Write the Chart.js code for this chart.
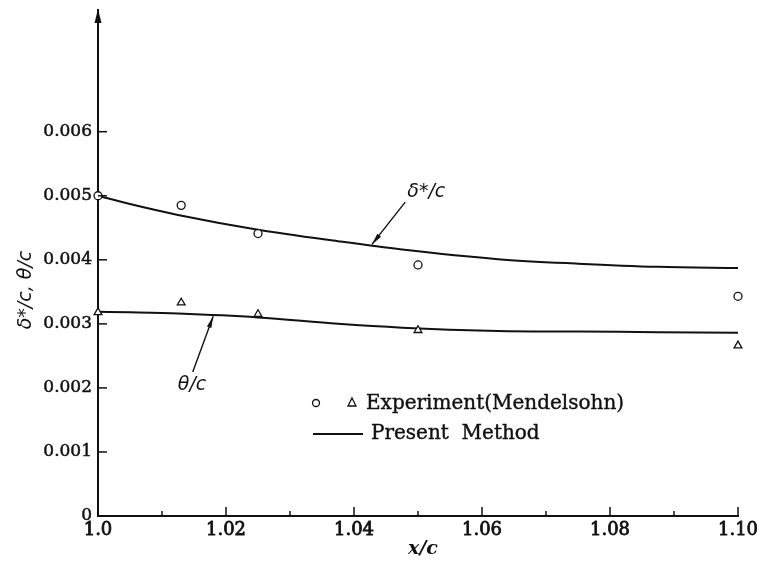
<!DOCTYPE html>
<html lang="en">
  <head>
    <meta charset="UTF-8" />
    <title>Boundary layer thickness</title>
    <style>
      body {
        margin: 0;
        background: #fff;
      }
      canvas {
        display: block;
      }
    </style>
  </head>
  <body>
    <canvas id="chart" width="757" height="570"></canvas>
    <script src="https://cdn.jsdelivr.net/npm/chart.js"></script>
    <script>
      // x/c positions of the measured points (Mendelsohn)
      const expX = [1.0, 1.013, 1.025, 1.05, 1.1];
      const expDelta = [0.005, 0.00485, 0.00441, 0.00392, 0.00343];
      const expTheta = [0.00318, 0.00333, 0.00315, 0.0029, 0.00266];

      // present method curves
      const curveX = [1.0, 1.005, 1.0125, 1.025, 1.0375, 1.0475, 1.0625, 1.075, 1.0875, 1.1];
      const curveDelta = [0.005, 0.00487, 0.0047, 0.00447, 0.00429, 0.00416, 0.00401, 0.00394, 0.00389, 0.00387];
      const curveTheta = [0.00319, 0.00318, 0.00316, 0.0031, 0.003, 0.00294, 0.00289, 0.00288, 0.00287, 0.00286];

      // axis ticks
      const xTicks = [1.0, 1.01, 1.02, 1.03, 1.04, 1.05, 1.06, 1.07, 1.08, 1.09, 1.1];
      const xTickLabels = ["1.0", "", "1.02", "", "1.04", "", "1.06", "", "1.08", "", "1.10"];
      const yTicks = [0, 0.001, 0.002, 0.003, 0.004, 0.005, 0.006];
      const yTickLabels = ["0", "0.001", "0.002", "0.003", "0.004", "0.005", "0.006"];

      const ink = "#111";
      const serif = '"DejaVu Serif", serif';
      const oblique = '"DejaVu Sans", sans-serif';

      const toPoints = (xs, ys) => xs.map((x, i) => ({ x: x, y: ys[i] }));

      function arrow(ctx, x0, y0, x1, y1) {
        const a = Math.atan2(y1 - y0, x1 - x0);
        ctx.beginPath();
        ctx.moveTo(x0, y0);
        ctx.lineTo(x1, y1);
        ctx.stroke();
        ctx.beginPath();
        ctx.moveTo(x1, y1);
        ctx.lineTo(x1 - 12 * Math.cos(a - 0.2), y1 - 12 * Math.sin(a - 0.2));
        ctx.lineTo(x1 - 12 * Math.cos(a + 0.2), y1 - 12 * Math.sin(a + 0.2));
        ctx.closePath();
        ctx.fill();
      }

      const decorations = {
        id: "decorations",
        afterDraw(chart) {
          const ctx = chart.ctx;
          const xs = chart.scales.x;
          const ys = chart.scales.y;
          const area = chart.chartArea;
          ctx.save();
          ctx.strokeStyle = ink;
          ctx.fillStyle = ink;
          ctx.lineWidth = 1.5;

          // inward tick marks
          xs.ticks.forEach((t, i) => {
            const px = xs.getPixelForValue(t.value);
            const len = xTickLabels[i] ? 9 : 5;
            ctx.beginPath();
            ctx.moveTo(px, area.bottom);
            ctx.lineTo(px, area.bottom - len);
            ctx.stroke();
          });
          ys.ticks.forEach((t) => {
            const py = ys.getPixelForValue(t.value);
            ctx.beginPath();
            ctx.moveTo(area.left, py);
            ctx.lineTo(area.left + 9, py);
            ctx.stroke();
          });

          // arrow head on top of the y axis
          ctx.beginPath();
          ctx.moveTo(area.left, area.top - 1);
          ctx.lineTo(area.left - 3.5, area.top + 13);
          ctx.lineTo(area.left + 3.5, area.top + 13);
          ctx.closePath();
          ctx.fill();

          // curve labels with pointers
          ctx.lineWidth = 1.4;
          arrow(ctx, xs.getPixelForValue(1.048), ys.getPixelForValue(0.0049),
            xs.getPixelForValue(1.0428), ys.getPixelForValue(0.00424));
          arrow(ctx, xs.getPixelForValue(1.0148), ys.getPixelForValue(0.00225),
            xs.getPixelForValue(1.018), ys.getPixelForValue(0.00312));

          ctx.font = "italic 19px " + oblique;
          ctx.textAlign = "center";
          ctx.textBaseline = "middle";
          ctx.fillText("δ*/c", xs.getPixelForValue(1.0513), ys.getPixelForValue(0.00505));
          ctx.fillText("θ/c", xs.getPixelForValue(1.0147), ys.getPixelForValue(0.00205));

          // axis titles
          ctx.font = "italic bold 19px " + serif;
          ctx.fillText("x/c", 423, 549);
          ctx.save();
          ctx.translate(26, 290);
          ctx.rotate(-Math.PI / 2);
          ctx.font = "italic 19px " + oblique;
          ctx.fillText("δ*/c, θ/c", 0, 0);
          ctx.restore();

          // legend
          ctx.font = "20px " + serif;
          ctx.textAlign = "left";
          ctx.lineWidth = 1.3;
          ctx.fillStyle = "#fff";
          ctx.beginPath();
          ctx.arc(316, 403, 3.5, 0, Math.PI * 2);
          ctx.fill();
          ctx.stroke();
          ctx.beginPath();
          ctx.moveTo(352, 398);
          ctx.lineTo(356, 406);
          ctx.lineTo(348, 406);
          ctx.closePath();
          ctx.fill();
          ctx.stroke();
          ctx.fillStyle = ink;
          ctx.lineWidth = 0.4;
          ctx.fillText("Experiment(Mendelsohn)", 366, 404);
          ctx.strokeText("Experiment(Mendelsohn)", 366, 404);
          ctx.lineWidth = 2;
          ctx.beginPath();
          ctx.moveTo(313, 434);
          ctx.lineTo(363, 434);
          ctx.stroke();
          ctx.lineWidth = 0.4;
          ctx.fillText("Present  Method", 371, 434);
          ctx.strokeText("Present  Method", 371, 434);
          ctx.restore();
        },
      };

      new Chart(document.getElementById("chart"), {
        type: "scatter",
        data: {
          datasets: [
            {
              label: "Experiment δ*/c",
              data: toPoints(expX, expDelta),
              pointStyle: "circle",
              pointRadius: 4,
              pointBorderWidth: 1.3,
              pointBorderColor: ink,
              pointBackgroundColor: "#fff",
              clip: false,
            },
            {
              label: "Experiment θ/c",
              data: toPoints(expX, expTheta),
              pointStyle: "triangle",
              pointRadius: 4.5,
              pointBorderWidth: 1.3,
              pointBorderColor: ink,
              pointBackgroundColor: "#fff",
              clip: false,
            },
            {
              label: "Present Method δ*/c",
              data: toPoints(curveX, curveDelta),
              showLine: true,
              borderColor: ink,
              borderWidth: 2,
              pointRadius: 0,
              cubicInterpolationMode: "monotone",
              clip: false,
            },
            {
              label: "Present Method θ/c",
              data: toPoints(curveX, curveTheta),
              showLine: true,
              borderColor: ink,
              borderWidth: 2,
              pointRadius: 0,
              cubicInterpolationMode: "monotone",
              clip: false,
            },
          ],
        },
        options: {
          responsive: false,
          animation: false,
          devicePixelRatio: 1,
          layout: {
            padding: { top: 10, right: 19, left: 0, bottom: 0 },
          },
          plugins: {
            legend: { display: false },
            tooltip: { enabled: false },
          },
          scales: {
            x: {
              type: "linear",
              min: 1.0,
              max: 1.1,
              afterBuildTicks: (s) => {
                s.ticks = xTicks.map((v) => ({ value: v }));
              },
              afterFit: (s) => {
                s.height = 54;
                s.paddingLeft = 0;
                s.paddingRight = 0;
              },
              grid: { display: false, drawTicks: false },
              border: { display: true, color: ink, width: 2 },
              ticks: {
                autoSkip: false,
                maxRotation: 0,
                padding: 4,
                color: ink,
                textStrokeColor: ink,
                textStrokeWidth: 0.8,
                font: { family: serif, size: 18 },
                callback: (v, i) => xTickLabels[i],
              },
            },
            y: {
              type: "linear",
              min: 0,
              max: 0.0079,
              afterBuildTicks: (s) => {
                s.ticks = yTicks.map((v) => ({ value: v }));
              },
              afterFit: (s) => {
                s.width = 98;
                s.paddingTop = 0;
                s.paddingBottom = 0;
              },
              grid: { display: false, drawTicks: false },
              border: { display: true, color: ink, width: 2 },
              ticks: {
                padding: 6,
                color: ink,
                textStrokeColor: ink,
                textStrokeWidth: 0.5,
                font: { family: serif, size: 17 },
                callback: (v, i) => yTickLabels[i],
              },
            },
          },
        },
        plugins: [decorations],
      });
    </script>
  </body>
</html>
